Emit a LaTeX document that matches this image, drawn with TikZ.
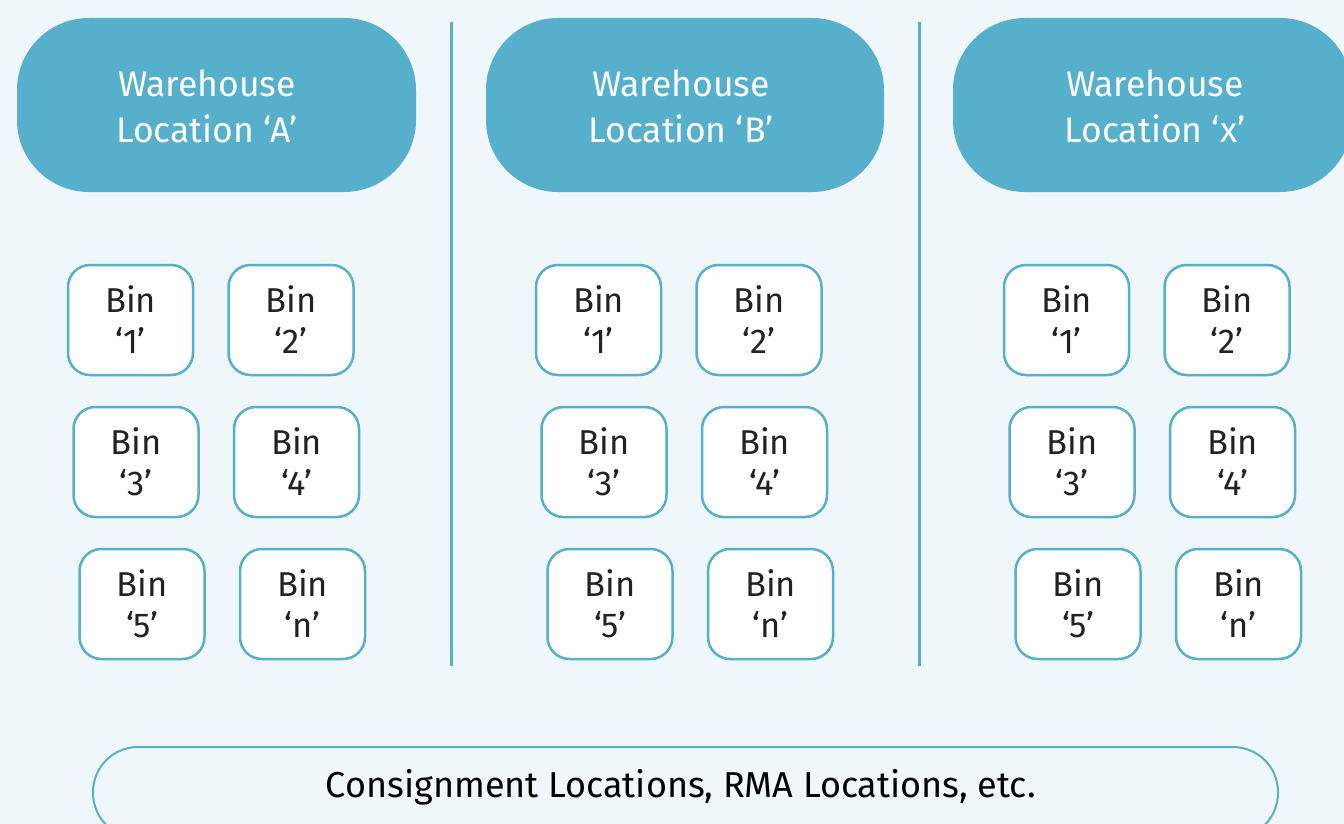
\documentclass[tikz,border=0pt]{standalone}
\usepackage{fontspec}
\setmainfont{Fira Sans}
\definecolor{bgc}{HTML}{EFF7FA}
\definecolor{teal}{HTML}{56B0CB}
\definecolor{ink}{HTML}{222222}
\begin{document}
\begin{tikzpicture}[x=1pt,y=-1pt,
  hdrtext/.style={text=white,align=center,font=\fontsize{35.5}{46}\selectfont},
  bin/.style={fill=white,draw=teal,line width=2.5pt,rounded corners=22pt,text=ink,align=center,
    minimum width=125pt,minimum height=110pt,inner sep=0pt,font=\fontsize{34.5}{41}\selectfont},
  divider/.style={draw=teal,line width=3pt},
  bar/.style={draw=teal,line width=2pt,rounded corners=45pt}]
\useasboundingbox (0,0) rectangle (1344,824);
\fill[bgc] (0,0) rectangle (1344,824);
\begin{scope}
\clip (0,0) rectangle (1344,824);
% headers
\fill[teal,rounded corners=72pt] (17,18) rectangle (416,192);
\fill[teal,rounded corners=72pt] (486,18) rectangle (884,192);
\fill[teal,rounded corners=72pt] (953,18) rectangle (1352,192);
\node[hdrtext] (hA) at (207,106) {Warehouse\\Location ‘A’};
\node[hdrtext] (hB) at (681,106) {Warehouse\\Location ‘B’};
\node[hdrtext] (hX) at (1155,106) {Warehouse\\Location ‘x’};
% dividers
\coordinate (d1t) at (451,22); \coordinate (d1b) at (451,666);
\coordinate (d2t) at (919,22); \coordinate (d2b) at (919,666);
\draw[divider] (d1t) -- (d1b);
\draw[divider] (d2t) -- (d2b);
% bins
\foreach \off/\c in {0/A,468/B,936/X}{
  \node[bin] (\c b1) at (130.5+\off,320) {Bin\\‘1’};
  \node[bin] (\c b2) at (291+\off,320) {Bin\\‘2’};
  \node[bin] (\c b3) at (136+\off,462) {Bin\\‘3’};
  \node[bin] (\c b4) at (296.5+\off,462) {Bin\\‘4’};
  \node[bin] (\c b5) at (142+\off,604) {Bin\\‘5’};
  \node[bin] (\c bn) at (302.5+\off,604) {Bin\\‘n’};
}
% bottom bar
\draw[bar] (93,747) rectangle (1278,838);
\node[text=black,font=\fontsize{36}{40}\selectfont] (cons) at (681,787) {Consignment Locations, RMA Locations, etc.};
\end{scope}
\end{tikzpicture}
\end{document}
